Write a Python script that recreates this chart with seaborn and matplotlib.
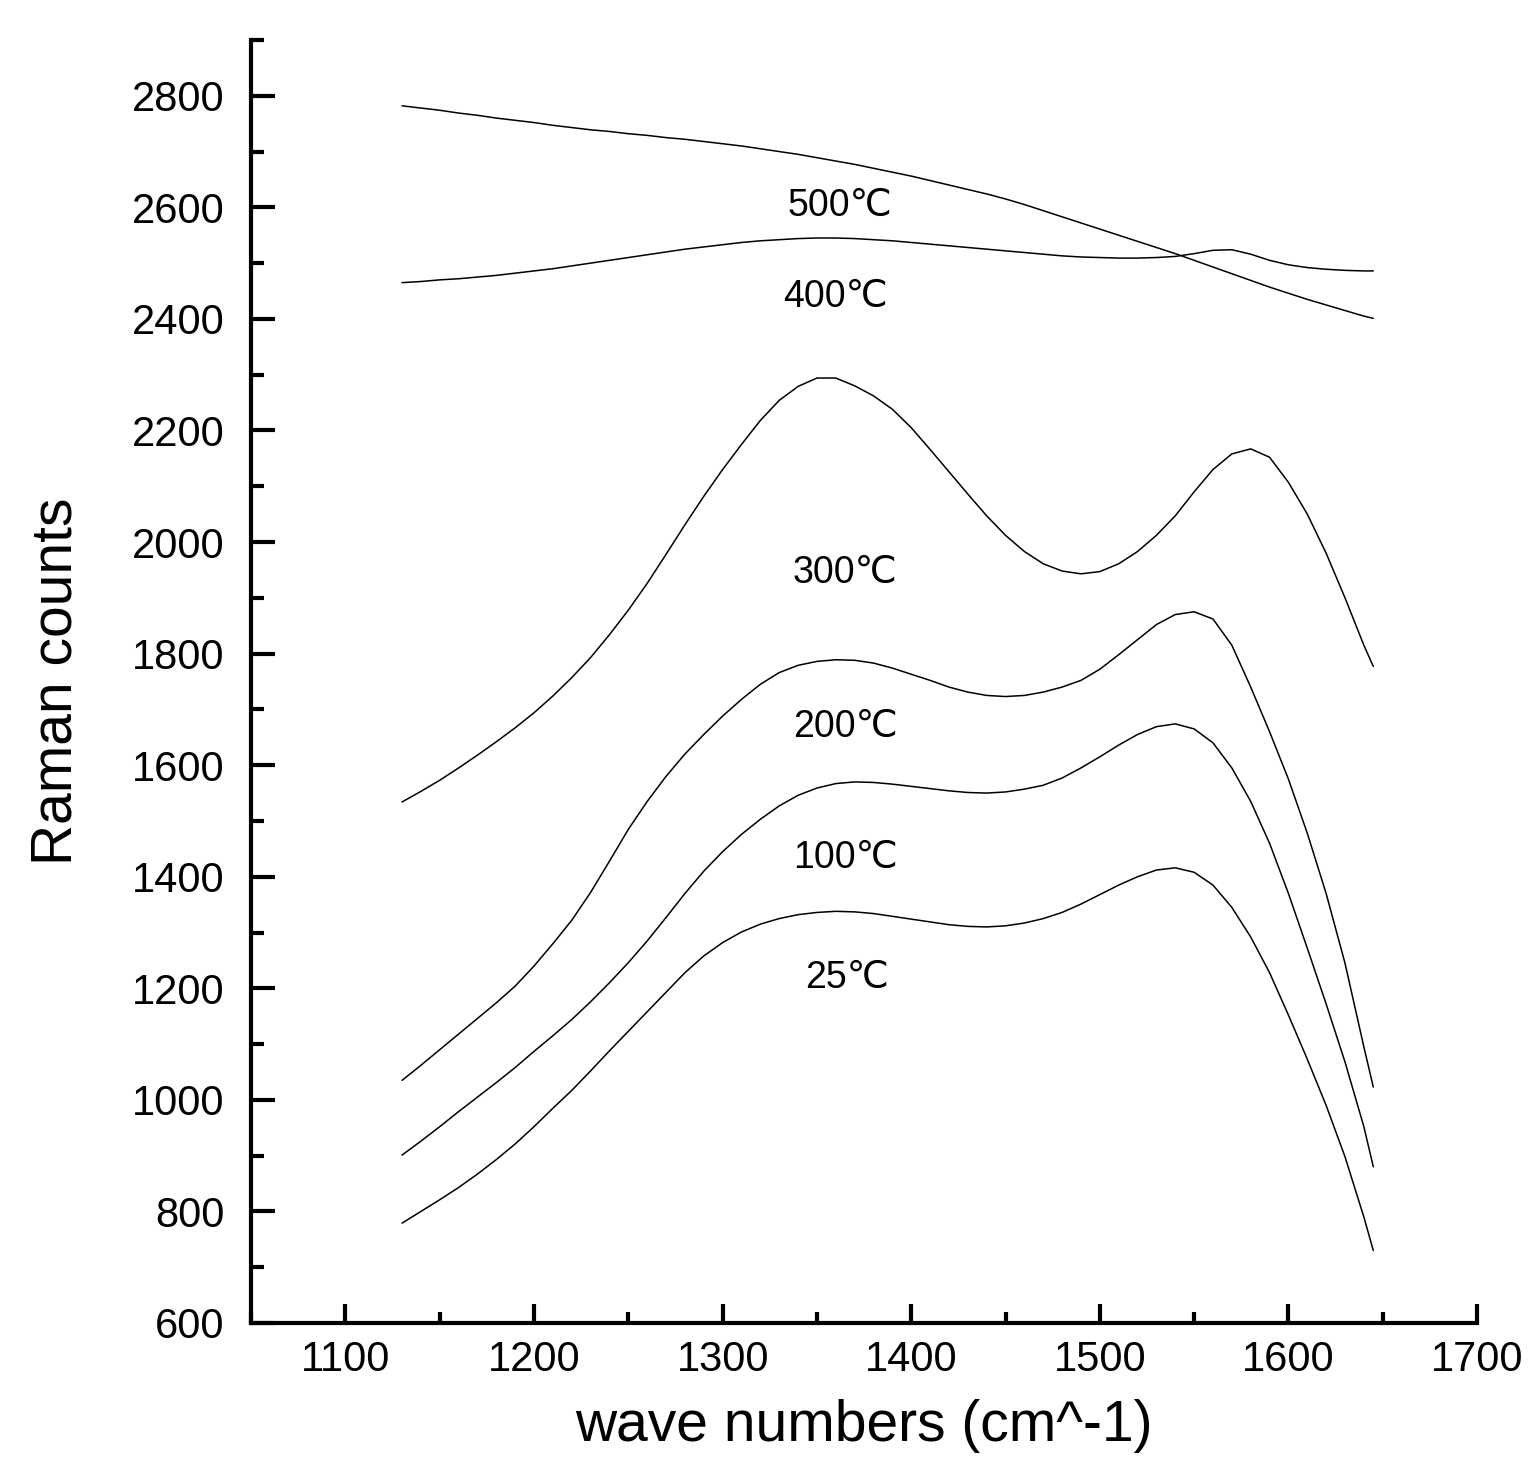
import numpy as np
import pandas as pd
import matplotlib
matplotlib.use("Agg")
import matplotlib.pyplot as plt
from matplotlib.ticker import MultipleLocator
import seaborn as sns

sns.set_style("ticks")
plt.rcParams['font.family'] = ['Liberation Sans', 'DejaVu Sans', 'Noto Sans CJK SC']
for key in ['text.color', 'axes.labelcolor', 'xtick.color', 'ytick.color', 'axes.edgecolor']:
    plt.rcParams[key] = 'black'

# wave numbers (cm^-1), every 10 from 1130 to 1640, plus the last point
wavenumber = list(range(1130, 1641, 10)) + [1645]

# Raman counts per temperature
t25 = [779, 800, 821, 843, 867, 893, 921, 952, 985, 1017,
       1052, 1088, 1123, 1158, 1193, 1228, 1258, 1282, 1301, 1315,
       1325, 1332, 1336, 1338, 1337, 1334, 1329, 1324, 1319, 1314,
       1311, 1310, 1312, 1317, 1325, 1336, 1351, 1368, 1385, 1400,
       1412, 1416, 1408, 1385, 1345, 1292, 1228, 1152, 1073, 990,
       898, 790, 730]
t100 = [901, 926, 952, 979, 1005, 1031, 1058, 1087, 1115, 1144,
        1176, 1210, 1246, 1285, 1327, 1370, 1410, 1445, 1476, 1503,
        1527, 1546, 1559, 1567, 1570, 1569, 1566, 1562, 1558, 1554,
        1551, 1550, 1552, 1557, 1564, 1577, 1595, 1615, 1636, 1655,
        1669, 1674, 1665, 1640, 1595, 1535, 1460, 1370, 1272, 1172,
        1068, 952, 880]
t200 = [1035, 1062, 1090, 1118, 1146, 1174, 1204, 1240, 1280, 1322,
        1372, 1428, 1485, 1535, 1580, 1620, 1655, 1688, 1718, 1745,
        1766, 1779, 1786, 1789, 1788, 1783, 1774, 1763, 1752, 1740,
        1731, 1725, 1723, 1725, 1731, 1740, 1752, 1772, 1798, 1825,
        1852, 1870, 1875, 1862, 1815, 1740, 1660, 1575, 1478, 1370,
        1245, 1095, 1023]
t300 = [1534, 1553, 1573, 1595, 1618, 1642, 1667, 1694, 1724, 1757,
        1793, 1834, 1878, 1926, 1978, 2031, 2082, 2130, 2175, 2218,
        2254, 2279, 2294, 2294, 2280, 2262, 2238, 2205, 2166, 2126,
        2086, 2047, 2012, 1983, 1961, 1948, 1943, 1947, 1961, 1983,
        2012, 2047, 2090, 2130, 2158, 2167, 2152, 2107, 2050, 1980,
        1900, 1815, 1777]
t400 = [2465, 2467, 2470, 2472, 2475, 2478, 2482, 2486, 2490, 2495,
        2500, 2505, 2510, 2515, 2520, 2525, 2529, 2533, 2537, 2540,
        2542, 2544, 2545, 2545, 2544, 2542, 2540, 2537, 2534, 2531,
        2528, 2525, 2522, 2519, 2516, 2513, 2511, 2510, 2509, 2509,
        2510, 2512, 2517, 2523, 2524, 2516, 2505, 2497, 2492, 2489,
        2487, 2486, 2486]
t500 = [2782, 2778, 2774, 2769, 2765, 2760, 2756, 2752, 2747, 2743,
        2739, 2736, 2732, 2729, 2725, 2722, 2718, 2714, 2710, 2705,
        2700, 2695, 2689, 2683, 2677, 2670, 2663, 2656, 2648, 2640,
        2632, 2624, 2615, 2605, 2594, 2583, 2572, 2561, 2550, 2539,
        2528, 2517, 2505, 2493, 2481, 2469, 2457, 2446, 2435, 2425,
        2415, 2405, 2401]

labels = ["25℃", "100℃", "200℃", "300℃", "400℃", "500℃"]
label_x = [1366, 1365, 1365, 1365, 1360, 1362]
label_y = [1218, 1433, 1668, 1944, 2440, 2603]

series = [t25, t100, t200, t300, t400, t500]

fig = plt.figure(figsize=(15.4, 14.7), dpi=100)
ax = fig.add_axes([0.1631, 0.1000, 0.7960, 0.8728])

for vals in series:
    sns.lineplot(x=wavenumber, y=vals, color="black", linewidth=1.1, ax=ax)

for lab, lx, ly in zip(labels, label_x, label_y):
    ax.text(lx, ly, lab, fontsize=27, ha="center", va="center",
            family=['Liberation Sans', 'DejaVu Sans', 'Noto Sans CJK SC'])

ax.set_xlim(1050, 1700)
ax.set_ylim(600, 2900)
ax.xaxis.set_minor_locator(MultipleLocator(50))
ax.yaxis.set_minor_locator(MultipleLocator(100))
ax.set_xticks(np.arange(1100, 1701, 100))
ax.set_yticks(np.arange(600, 2801, 200))

sns.despine(ax=ax)
for side in ["left", "bottom"]:
    ax.spines[side].set_linewidth(3)

ax.tick_params(axis="y", which="major", direction="in", length=17, width=3, pad=19, labelsize=30)
ax.tick_params(axis="y", which="minor", direction="in", length=9, width=3)
ax.tick_params(axis="x", which="major", direction="in", length=14, width=3, pad=12, labelsize=30)
ax.tick_params(axis="x", which="minor", direction="in", length=8, width=3)

ax.set_xlabel("wave numbers (cm^-1)", fontsize=41)
ax.set_ylabel("Raman counts", fontsize=41)
ax.xaxis.set_label_coords(0.5, -0.059)
ax.yaxis.set_label_coords(-0.137, 0.5)

fig.savefig("out.png", dpi=100, facecolor="white")
